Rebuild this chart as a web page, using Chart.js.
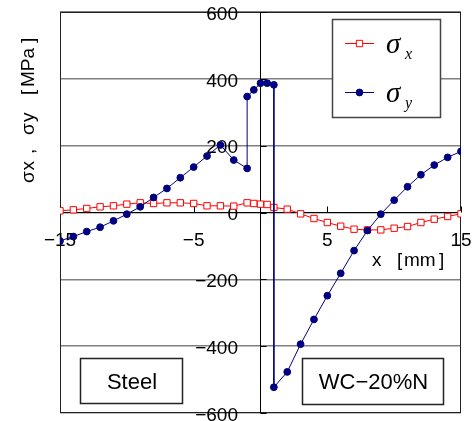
<!DOCTYPE html>
<html>
<head>
<meta charset="utf-8">
<script src="https://cdn.jsdelivr.net/npm/chart.js@4/dist/chart.umd.min.js"></script>
<style>
  html, body { margin: 0; padding: 0; background: #ffffff; }
  #wrap { width: 472px; height: 421px; }
</style>
</head>
<body>
<div id="wrap"><canvas id="chart" width="472" height="421"></canvas></div>
<script>
// Measurement positions along the specimen [mm] and stresses [MPa]
const sigmaXPos = [-15, -14, -13, -12, -11, -10, -9, -8, -7, -6, -5, -4, -3, -2, -1, -0.5, 0, 0.5, 1,
                   2, 3, 4, 5, 6, 7, 8, 9, 10, 11, 12, 13, 14, 15];
const sigmaXVal = [5, 8, 12, 17, 20, 25, 29, 27, 29, 29, 27, 20, 20, 19, 29, 27, 25, 24, 15,
                   10, -4, -18, -30, -41, -50, -52, -52, -47, -42, -30, -20, -12, -4];

// The σy trace jumps at the interfaces, so x = -1 and x = 1 appear twice
const sigmaYPos = [-15, -14, -13, -12, -11, -10, -9, -8, -7, -6, -5, -4, -3, -2, -1,
                   -1, -0.5, 0, 0.5, 1,
                   1, 2, 3, 4, 5, 6, 7, 8, 9, 10, 11, 12, 13, 14, 15];
const sigmaYVal = [-85, -72, -57, -44, -25, -5, 17, 45, 72, 104, 136, 169, 202, 157, 132,
                   347, 367, 387, 387, 382,
                   -523, -477, -394, -320, -249, -182, -114, -54, -5, 37, 77, 113, 142, 165, 183];

const xTickValues = [-15, -5, 5, 15];
const yTickValues = [600, 400, 200, 0, -200, -400, -600];
const seriesSubscripts = ['x', 'y'];
const materialLabels = ['Steel', 'WC\u221220%N'];

const RED = '#ff0000';
const NAVY = '#000080';
const SANS = '"Liberation Sans", Arial, sans-serif';
const SERIF = '"Liberation Serif", "Times New Roman", serif';

function fmt(v) {
  return v < 0 ? '\u2212' + Math.abs(v) : String(v);
}

function toPoints(xs, ys) {
  return xs.map((x, i) => ({ x: x, y: ys[i] }));
}

const decor = {
  id: 'decor',
  beforeDatasetsDraw(chart) {
    const { ctx, chartArea: a, scales: { x, y } } = chart;
    const x0 = x.getPixelForValue(0);
    const y0 = y.getPixelForValue(0);
    ctx.save();

    // plot frame
    ctx.strokeStyle = '#222';
    ctx.lineWidth = 1;
    ctx.strokeRect(a.left + 0.5, a.top + 0.5, a.right - a.left - 1, a.bottom - a.top - 1);

    // axes crossing at the origin
    ctx.strokeStyle = '#000';
    ctx.beginPath();
    ctx.moveTo(a.left, y0); ctx.lineTo(a.right, y0);
    ctx.moveTo(x0, a.top); ctx.lineTo(x0, a.bottom);
    ctx.stroke();

    // tick marks
    ctx.beginPath();
    xTickValues.forEach(v => {
      const px = Math.round(x.getPixelForValue(v)) + 0.5;
      ctx.moveTo(px, y0); ctx.lineTo(px, y0 - 6);
    });
    yTickValues.forEach(v => {
      const py = Math.round(y.getPixelForValue(v)) + 0.5;
      ctx.moveTo(x0, py); ctx.lineTo(x0 + 6, py);
    });
    ctx.stroke();

    // tick labels
    ctx.fillStyle = '#000';
    ctx.font = '19px ' + SANS;
    ctx.textAlign = 'right';
    ctx.textBaseline = 'middle';
    yTickValues.forEach(v => {
      ctx.fillText(fmt(v), x0 - 22.5, y.getPixelForValue(v) + 2.5);
    });
    ctx.textAlign = 'center';
    xTickValues.forEach(v => {
      ctx.fillText(fmt(v), x.getPixelForValue(v), y0 + 28.5);
    });

    // x-axis title
    ctx.textAlign = 'left';
    const ty = y0 + 48.5;
    ctx.fillText('x', 372, ty);
    ctx.fillText('[', 397, ty);
    ctx.fillText('mm', 404, ty);
    ctx.fillText(']', 439, ty);
    ctx.restore();
  },
  afterDatasetsDraw(chart) {
    const { ctx } = chart;
    const sets = chart.data.datasets;
    ctx.save();

    // legend box
    const lx = 332, ly = 19, lw = 108, lh = 98;
    ctx.fillStyle = '#fff';
    ctx.fillRect(lx, ly, lw, lh);
    ctx.strokeStyle = '#444';
    ctx.lineWidth = 1.5;
    ctx.strokeRect(lx + 0.5, ly + 0.5, lw, lh);

    const rows = [43, 92];
    sets.forEach((ds, i) => {
      const ry = rows[i] + 0.5;
      ctx.strokeStyle = ds.borderColor;
      ctx.lineWidth = 1;
      ctx.beginPath();
      ctx.moveTo(345, ry); ctx.lineTo(374, ry);
      ctx.stroke();

      ctx.fillStyle = ds.pointBackgroundColor;
      ctx.strokeStyle = ds.pointBorderColor;
      ctx.lineWidth = ds.pointBorderWidth;
      ctx.beginPath();
      if (ds.pointStyle === 'rect') {
        const s = Math.SQRT1_2 * ds.pointRadius;
        ctx.rect(359.5 - s, ry - s, 2 * s, 2 * s);
      } else {
        ctx.arc(359.5, ry, ds.pointRadius, 0, Math.PI * 2);
      }
      ctx.fill();
      ctx.stroke();

      ctx.fillStyle = '#000';
      ctx.textAlign = 'left';
      ctx.textBaseline = 'alphabetic';
      ctx.font = 'italic 29px ' + SERIF;
      ctx.fillText('\u03c3', 386, rows[i] + 10);
      ctx.font = 'italic 16px ' + SERIF;
      ctx.fillText(seriesSubscripts[i], 405, rows[i] + 16);
    });

    // material labels
    const boxes = [
      { l: 80, t: 358, w: 102, h: 45 },
      { l: 302, t: 358, w: 141, h: 46 }
    ];
    boxes.forEach((b, i) => {
      ctx.fillStyle = '#fff';
      ctx.fillRect(b.l, b.t, b.w, b.h);
      ctx.strokeStyle = '#222';
      ctx.lineWidth = 1.5;
      ctx.strokeRect(b.l + 0.5, b.t + 0.5, b.w, b.h);
      ctx.fillStyle = '#000';
      ctx.font = '22px ' + SANS;
      ctx.textAlign = 'center';
      ctx.textBaseline = 'middle';
      ctx.fillText(materialLabels[i], b.l + b.w / 2 + 1, b.t + b.h / 2 + 2);
    });
    ctx.restore();
  },
  afterDraw(chart) {
    const { ctx } = chart;
    ctx.save();
    // y-axis title, written bottom to top
    ctx.translate(34, 183);
    ctx.rotate(-Math.PI / 2);
    ctx.fillStyle = '#000';
    ctx.font = '19px ' + SANS;
    ctx.textAlign = 'left';
    ctx.textBaseline = 'alphabetic';
    const parts = [['\u03c3', 0], ['x', 12.5], [',', 29], ['\u03c3', 48], ['y', 61], ['[', 88], ['MPa', 96], [']', 140]];
    parts.forEach(p => ctx.fillText(p[0], p[1], 0));
    ctx.restore();
  }
};

new Chart(document.getElementById('chart').getContext('2d'), {
  type: 'scatter',
  data: {
    datasets: [
      {
        label: '\u03c3x',
        data: toPoints(sigmaXPos, sigmaXVal),
        showLine: true,
        borderColor: RED,
        borderWidth: 1,
        pointStyle: 'rect',
        pointRadius: 4.5,
        pointBackgroundColor: '#ffffff',
        pointBorderColor: RED,
        pointBorderWidth: 1,
        order: 2
      },
      {
        label: '\u03c3y',
        data: toPoints(sigmaYPos, sigmaYVal),
        showLine: true,
        borderColor: NAVY,
        borderWidth: 1,
        pointStyle: 'circle',
        pointRadius: 3.4,
        pointBackgroundColor: NAVY,
        pointBorderColor: NAVY,
        pointBorderWidth: 1,
        order: 1
      }
    ]
  },
  options: {
    responsive: false,
    animation: false,
    devicePixelRatio: 1,
    layout: { padding: { left: 60, top: 12, right: 11, bottom: 8 } },
    plugins: { legend: { display: false }, tooltip: { enabled: false } },
    scales: {
      x: {
        type: 'linear', min: -15, max: 15,
        ticks: { display: false, stepSize: 5 },
        grid: { display: false },
        border: { display: false },
        afterFit(s) { s.height = 0; }
      },
      y: {
        type: 'linear', min: -600, max: 600,
        ticks: { display: false, stepSize: 200 },
        grid: { color: '#808080', lineWidth: 1.5, drawTicks: false },
        border: { display: false },
        afterFit(s) { s.width = 0; }
      }
    }
  },
  plugins: [decor]
});
</script>
</body>
</html>
